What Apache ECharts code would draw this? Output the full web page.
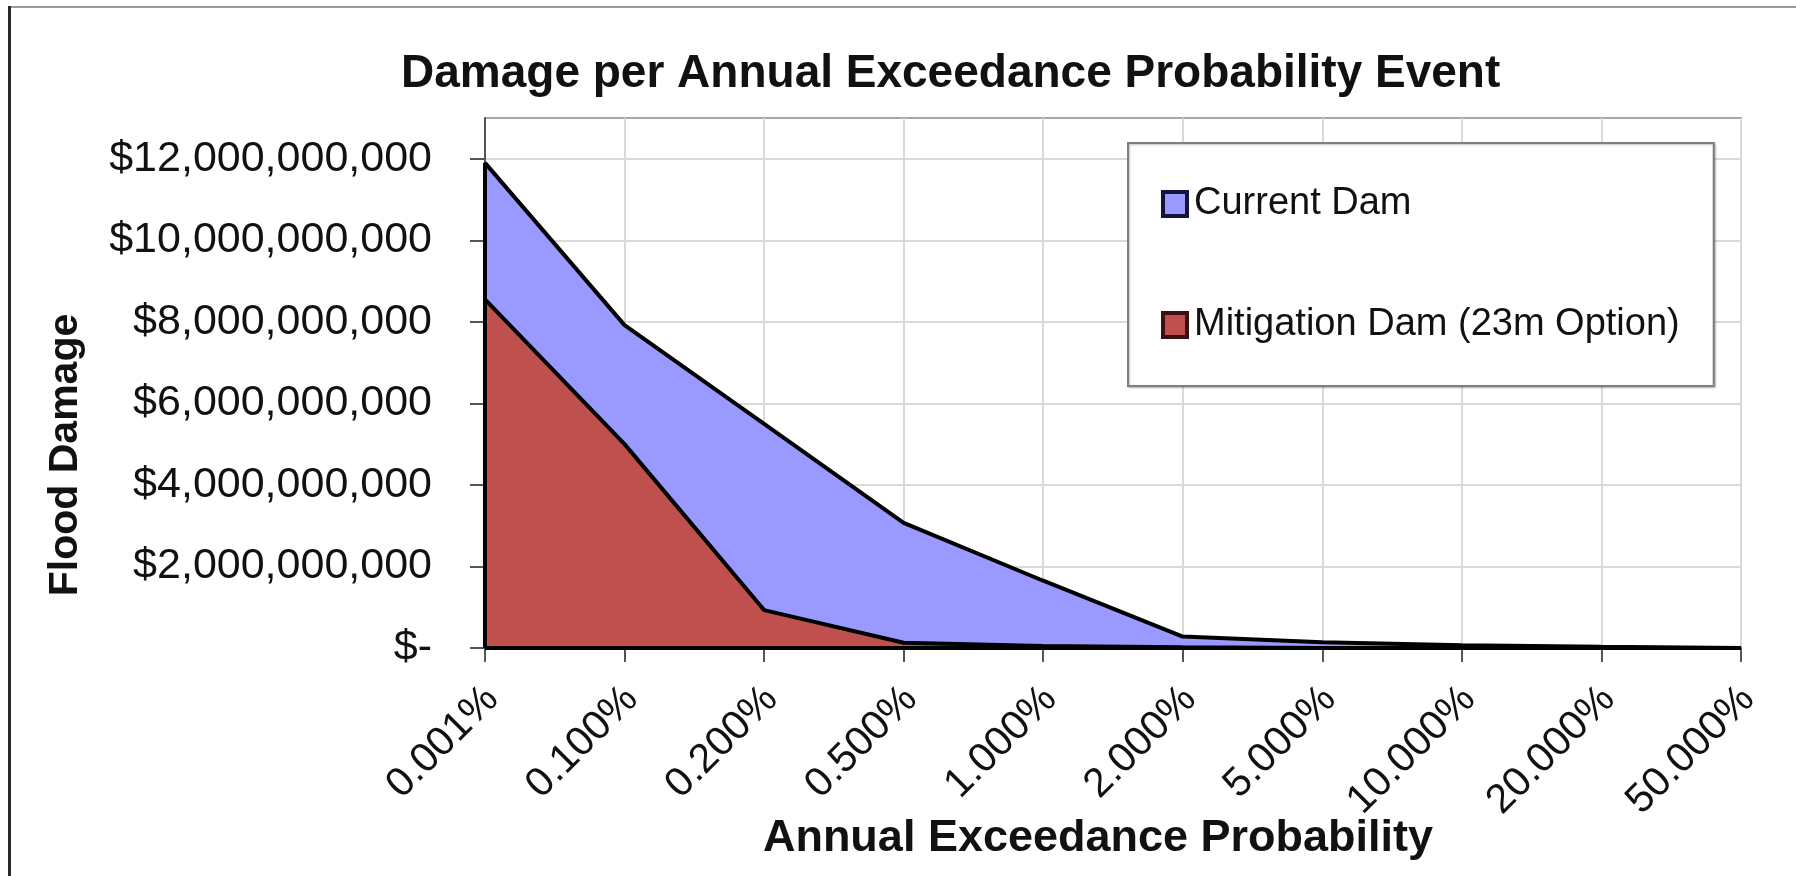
<!DOCTYPE html>
<html>
<head>
<meta charset="utf-8">
<script src="https://cdn.jsdelivr.net/npm/echarts@6/dist/echarts.min.js"></script>
<style>
  html, body { margin: 0; padding: 0; background: #ffffff; }
  #chart { width: 1796px; height: 876px; }
</style>
</head>
<body>
<div id="chart"></div>
<script>
// ---- data ----
const titleText = 'Damage per Annual Exceedance Probability Event';
const xAxisTitle = 'Annual Exceedance Probability';
const yAxisTitle = 'Flood Damage';
const categories = ['0.001%', '0.100%', '0.200%', '0.500%', '1.000%', '2.000%', '5.000%', '10.000%', '20.000%', '50.000%'];
const currentDam = [11.9e9, 7.92e9, 5.5e9, 3.07e9, 1.65e9, 0.28e9, 0.14e9, 0.07e9, 0.03e9, 0];
const mitigationDam = [8.55e9, 5.0e9, 0.93e9, 0.13e9, 0.05e9, 0.02e9, 0, 0, 0, 0];
const seriesNames = ['Current Dam', 'Mitigation Dam (23m Option)'];
const yTickValues = [0, 2e9, 4e9, 6e9, 8e9, 10e9, 12e9];
const yMax = 13e9;
const yStep = 2e9;

const FONT = '"Liberation Sans", Arial, Helvetica, sans-serif';

function fmtDollar(v) {
  if (v === 0) return '$-';
  if (Math.round(v) % yStep !== 0) return '';
  const s = String(Math.round(v));
  let out = '';
  for (let i = 0; i < s.length; i++) {
    if (i > 0 && (s.length - i) % 3 === 0) out += ',';
    out += s[i];
  }
  return '$' + out;
}

const chart = echarts.init(document.getElementById('chart'), null, { renderer: 'canvas' });

const option = {
  backgroundColor: '#ffffff',
  animation: false,
  title: {
    text: titleText,
    left: 396,
    top: 46,
    textStyle: { fontFamily: FONT, fontSize: 46, fontWeight: 'bold', color: '#111111' }
  },
  legend: {
    orient: 'vertical',
    left: 1128,
    top: 143,
    padding: [42, 34, 42, 33],
    itemGap: 83,
    itemWidth: 24,
    itemHeight: 24,
    backgroundColor: '#ffffff',
    borderColor: '#7f7f7f',
    borderWidth: 2,
    borderRadius: 0,
    shadowColor: 'rgba(0,0,0,0.25)',
    shadowBlur: 2,
    shadowOffsetX: 1,
    shadowOffsetY: 1,
    textStyle: { fontFamily: FONT, fontSize: 38, color: '#111111', padding: [0, 0, 0, 2] },
    data: [
      { name: seriesNames[0], icon: 'rect', itemStyle: { color: '#9999FF', borderColor: '#14143c', borderWidth: 4 } },
      { name: seriesNames[1], icon: 'rect', itemStyle: { color: '#C0504D', borderColor: '#3a1010', borderWidth: 4 } }
    ]
  },
  grid: {
    left: 485,
    right: 55,
    top: 118,
    bottom: 228,
    show: true,
    borderColor: '#a6a6a6',
    borderWidth: 2,
    backgroundColor: 'transparent'
  },
  xAxis: {
    type: 'category',
    data: categories,
    boundaryGap: false,
    axisLine: { show: true, lineStyle: { color: '#555555', width: 2 } },
    axisTick: { show: true, length: 14, inside: false, lineStyle: { color: '#555555', width: 2 } },
    axisLabel: {
      rotate: 45,
      interval: 0,
      margin: 38,
      align: 'right',
      verticalAlign: 'top',
      lineHeight: 20,
      fontFamily: FONT,
      fontSize: 41,
      color: '#111111'
    },
    splitLine: { show: true, lineStyle: { color: '#d9d9d9', width: 2 } }
  },
  yAxis: {
    type: 'value',
    min: 0,
    max: yMax,
    interval: yStep,
    axisLine: { show: true, lineStyle: { color: '#555555', width: 2 } },
    axisTick: { show: true, length: 15, customValues: yTickValues, lineStyle: { color: '#555555', width: 2 } },
    axisLabel: {
      margin: 53,
      fontFamily: FONT,
      fontSize: 43,
      color: '#111111',
      customValues: yTickValues,
      formatter: fmtDollar
    },
    splitLine: { show: true, lineStyle: { color: '#d9d9d9', width: 2 } }
  },
  graphic: [
    { type: 'line', shape: { x1: 8, y1: 7, x2: 1796, y2: 7 }, style: { stroke: '#9a9a9a', lineWidth: 2 }, z: 10 },
    { type: 'line', shape: { x1: 9.5, y1: 6, x2: 9.5, y2: 876 }, style: { stroke: '#2a2a2a', lineWidth: 3 }, z: 10 },
    {
      type: 'text',
      x: 1098, y: 839,
      style: { text: xAxisTitle, fontFamily: FONT, fontSize: 45, fontWeight: 'bold', fill: '#111111', align: 'center', verticalAlign: 'middle' }
    },
    {
      type: 'text',
      x: 66, y: 455,
      rotation: Math.PI / 2,
      style: { text: yAxisTitle, fontFamily: FONT, fontSize: 41, fontWeight: 'bold', fill: '#111111', align: 'center', verticalAlign: 'middle' }
    }
  ],
  series: [
    {
      name: seriesNames[0],
      type: 'line',
      data: currentDam,
      symbol: 'none',
      lineStyle: { color: '#000000', width: 4 },
      itemStyle: { color: '#9999FF' },
      areaStyle: { color: '#9999FF', opacity: 1 },
      z: 2
    },
    {
      name: seriesNames[1],
      type: 'line',
      data: mitigationDam,
      symbol: 'none',
      lineStyle: { color: '#000000', width: 4 },
      itemStyle: { color: '#C0504D' },
      areaStyle: { color: '#C0504D', opacity: 1 },
      z: 3,
      markLine: {
        silent: true,
        symbol: ['none', 'none'],
        label: { show: false },
        lineStyle: { color: '#000000', width: 4, type: 'solid' },
        data: [
          [{ coord: [categories[0], 0] }, { coord: [categories[0], currentDam[0]] }],
          [{ coord: [categories[0], 0] }, { coord: [categories[categories.length - 1], 0] }]
        ]
      }
    }
  ]
};

chart.setOption(option);
</script>
</body>
</html>
